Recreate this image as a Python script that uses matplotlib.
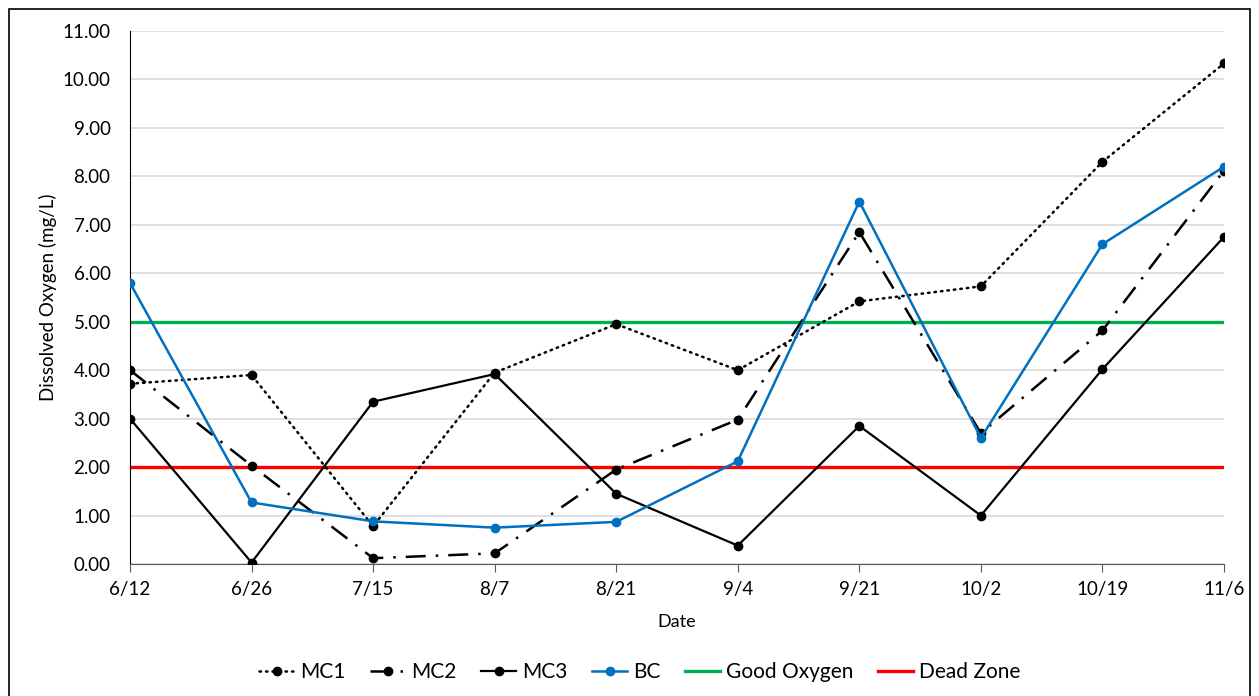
import matplotlib
matplotlib.use('Agg')
import matplotlib.pyplot as plt
from matplotlib.patches import Rectangle

dates = ["6/12", "6/26", "7/15", "8/7", "8/21", "9/4", "9/21", "10/2", "10/19", "11/6"]
mc1 = [3.72, 3.90, 0.78, 3.95, 4.95, 4.00, 5.42, 5.73, 8.30, 10.33]
mc2 = [4.00, 2.03, 0.12, 0.22, 1.95, 2.98, 6.85, 2.70, 4.82, 8.12]
mc3 = [3.00, 0.03, 3.35, 3.92, 1.45, 0.38, 2.85, 1.00, 4.02, 6.75]
bc = [5.80, 1.27, 0.88, 0.75, 0.87, 2.12, 7.48, 2.60, 6.60, 8.20]
good_oxygen = 5.0
dead_zone = 2.0

plt.rcParams['font.family'] = ['Lato', 'DejaVu Sans']

W, H = 1259, 696
fig = plt.figure(figsize=(W / 100, H / 100), dpi=100)
ax = fig.add_axes([130 / W, 1 - 564 / H, (1224 - 130) / W, (564 - 31) / H])

x = list(range(len(dates)))
ax.plot(x, [good_oxygen] * len(x), color='#00B050', lw=2.4, label='Good Oxygen', zorder=2)
ax.plot(x, [dead_zone] * len(x), color='#FF0000', lw=2.4, label='Dead Zone', zorder=2)

ax.plot(x, mc1, color='black', lw=1.8, ls=(0, (0.6, 2.0)), dash_capstyle='round',
        marker='o', ms=6, label='MC1', zorder=3)
ax.plot(x, mc2, color='black', lw=1.8, ls=(0, (8, 4, 1, 4)),
        marker='o', ms=6, label='MC2', zorder=3)
ax.plot(x, mc3, color='black', lw=1.6, marker='o', ms=6, label='MC3', zorder=3)
ax.plot(x, bc, color='#0070C0', lw=1.8, marker='o', ms=6, label='BC', zorder=4)

ax.set_xlim(0, len(dates) - 1)
ax.set_ylim(0, 11)
ax.set_yticks(range(0, 12))
ax.set_yticklabels([f"{v:.2f}" for v in range(0, 12)], fontsize=13.5)
ax.set_xticks(x)
ax.set_xticklabels(dates, fontsize=13.5)
ax.yaxis.grid(True, color='#D9D9D9', lw=1.2)
ax.set_axisbelow(True)
for s in ['top', 'right']:
    ax.spines[s].set_visible(False)
ax.spines['left'].set_color('black')
ax.spines['bottom'].set_color('#595959')
ax.tick_params(axis='y', length=0, pad=14)
ax.tick_params(axis='x', length=6, color='#595959', pad=6)
ax.set_xlabel('Date', fontsize=13, labelpad=12)
ax.set_ylabel('Dissolved Oxygen (mg/L)', fontsize=13.5, labelpad=4)

handles, labels = ax.get_legend_handles_labels()
order = [2, 3, 4, 5, 0, 1]
fig.legend([handles[i] for i in order], [labels[i] for i in order],
           loc='center', bbox_to_anchor=(0.508, 1 - 672 / H), ncol=6, frameon=False,
           fontsize=15, handlelength=1.7, columnspacing=1.2, handletextpad=0.25)

fig.patches.append(Rectangle((9 / W, -0.01), (1250 - 9) / W, 1 - 9 / H + 0.01,
                             transform=fig.transFigure, fill=False, ec='black', lw=1.2))

fig.savefig('out.png', dpi=100)
